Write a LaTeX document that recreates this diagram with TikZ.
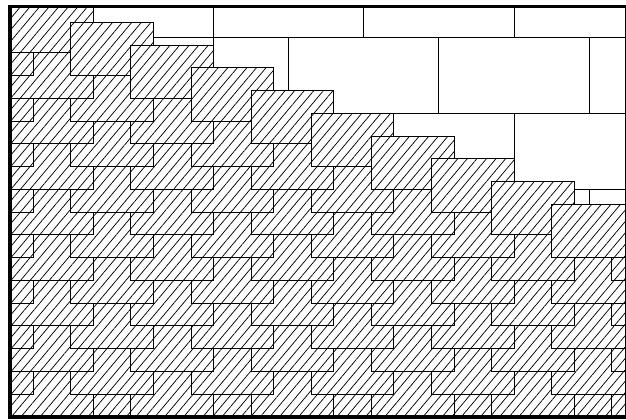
\documentclass[tikz,border=0pt]{standalone}
\usetikzlibrary{patterns.meta}
\begin{document}
\begin{tikzpicture}[x=0.75pt,y=-0.75pt,
  tile/.style={draw=black, line width=0.75pt, preaction={fill=white},
    pattern={Lines[angle=50,distance=5.5pt,line width=0.55pt]}},
  brick/.style={draw=black, line width=0.75pt},
  frame/.style={draw=black, line width=2.55pt}]
\useasboundingbox (0,0) rectangle (626,419);
\begin{scope}
  \clip (10,6.7) rectangle (626.5,416.8);
  % background brick courses
  \foreach \j in {0,...,5}{
    \pgfmathsetmacro\ytop{-38.55+75.85*\j}
    \pgfmathsetmacro\ybot{\ytop+75.85}
    \draw[brick] (0,\ybot) -- (640,\ybot);
    \pgfmathtruncatemacro\odd{mod(\j,2)}
    \ifnum\odd=0 \def\xoff{213.3}\else\def\xoff{288.5}\fi
    \foreach \m in {-2,...,3}{
      \pgfmathsetmacro\xj{\xoff+150.4*\m}
      \draw[brick] (\xj,\ytop) -- (\xj,\ybot);
    }
  }
  \draw[brick] (213.3,37.3) -- (213.3,45);
  % hatched tiles, lower ones first
  \foreach \k in {18,17,...,0}{
    \foreach \cc in {-1,0,...,10}{
      \pgfmathtruncatemacro\rr{(\k-\cc)/2}
      \pgfmathtruncatemacro\pp{mod(\k-\cc+40,2)}
      \pgfmathtruncatemacro\ok{(\pp==0)&&(\rr>=0)&&!((\rr==0)&&(\cc>=0)&&(\cc<=9))}
      \ifnum\ok=1
        \pgfmathsetmacro\xx{10.7+60.12*\cc}
        \pgfmathsetmacro\yy{-0.45+22.75*\k}
        \draw[tile] (\xx,\yy) rectangle ++(82.6,53.3);
      \fi
    }
  }
  % leading staircase of tiles
  \foreach \cc in {0,...,9}{
    \draw[tile] ({10.7+60.12*\cc},{-0.45+22.75*\cc}) rectangle ++(82.6,53.3);
  }
\end{scope}
\draw[frame] (10,6.7) rectangle (626.5,416.8);
\end{tikzpicture}
\end{document}
